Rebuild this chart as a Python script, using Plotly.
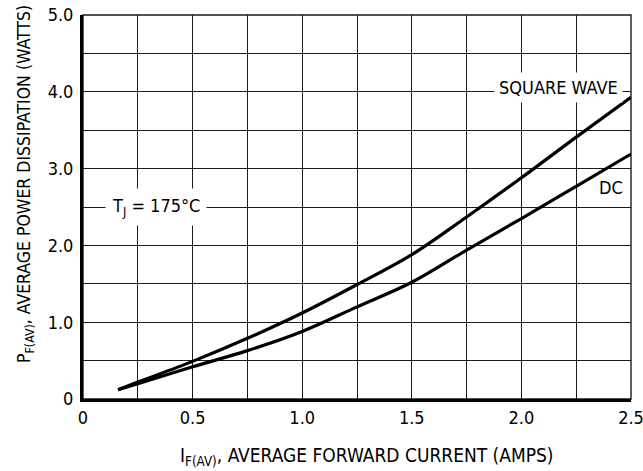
import plotly.graph_objects as go

# Data
current_amps = [0.16, 0.25, 0.5, 0.75, 1.0, 1.25, 1.5, 1.75, 2.0, 2.25, 2.5]
square_wave_watts = [0.12, 0.22, 0.49, 0.79, 1.12, 1.49, 1.88, 2.37, 2.88, 3.41, 3.93]
dc_watts = [0.12, 0.20, 0.42, 0.63, 0.88, 1.20, 1.52, 1.94, 2.35, 2.77, 3.19]

x_tick_vals = [0, 0.5, 1.0, 1.5, 2.0, 2.5]
x_tick_text = ["0", "0.5", "1.0", "1.5", "2.0", "2.5"]
y_tick_vals = [0, 1, 2, 3, 4, 5]
y_tick_text = ["0", "1.0", "2.0", "3.0", "4.0", "5.0"]

FONT = "DejaVu Sans Condensed, Liberation Sans Narrow, sans-serif"
GRID = "#1a1a1a"

fig = go.Figure()
fig.add_trace(go.Scatter(x=current_amps, y=square_wave_watts, mode="lines",
                         line=dict(color="black", width=3.2, shape="spline"),
                         showlegend=False))
fig.add_trace(go.Scatter(x=current_amps, y=dc_watts, mode="lines",
                         line=dict(color="black", width=3.2, shape="spline"),
                         showlegend=False))

fig.update_xaxes(range=[0, 2.5], tickvals=x_tick_vals, ticktext=x_tick_text,
                 automargin=False, ticklabeloverflow="allow",
                 showgrid=True, gridcolor=GRID, gridwidth=1.4,
                 minor=dict(dtick=0.25, showgrid=True, gridcolor=GRID, gridwidth=1.4),
                 zeroline=False, showline=True, linecolor="black", linewidth=3,
                 ticks="", ticklabelstandoff=0,
                 tickfont=dict(family=FONT, size=18, color="black"))
fig.update_yaxes(range=[0, 5], tickvals=y_tick_vals, ticktext=y_tick_text,
                 automargin=False, ticklabeloverflow="allow",
                 showgrid=True, gridcolor=GRID, gridwidth=1.4,
                 minor=dict(dtick=0.5, showgrid=True, gridcolor=GRID, gridwidth=1.4),
                 zeroline=False, showline=True, linecolor="black", linewidth=3,
                 ticks="", ticklabelstandoff=3,
                 tickfont=dict(family=FONT, size=18, color="black"))

# frame (top and right edges)
fig.add_shape(type="rect", xref="paper", yref="paper", x0=0, y0=0, x1=1, y1=1,
              line=dict(color=GRID, width=1.4), layer="below")

# axis titles
fig.add_annotation(xref="paper", yref="paper", x=0.518, y=-0.151,
                   xanchor="center", yanchor="middle", showarrow=False,
                   text="I<sub>F(AV)</sub>, AVERAGE FORWARD CURRENT (AMPS)",
                   font=dict(family=FONT, size=19, color="black"))
fig.add_annotation(xref="paper", yref="paper", x=-0.104, y=0.56,
                   xanchor="center", yanchor="middle", showarrow=False, textangle=-90,
                   text="P<sub>F(AV)</sub>, AVERAGE POWER DISSIPATION (WATTS)",
                   font=dict(family=FONT, size=17.5, color="black"))

fig.add_annotation(x=0.333, y=2.5, text="T<sub>J</sub> = 175°C", showarrow=False,
                   font=dict(family=FONT, size=18, color="black"),
                   bgcolor="white", borderpad=6)
fig.add_annotation(x=2.17, y=4.05, text="SQUARE WAVE", showarrow=False,
                   font=dict(family=FONT, size=18, color="black"),
                   bgcolor="white", borderpad=4)
fig.add_annotation(x=2.41, y=2.76, text="DC", showarrow=False,
                   font=dict(family=FONT, size=18, color="black"))

fig.update_layout(width=643, height=471,
                  margin=dict(l=83, r=12, t=15, b=72),
                  paper_bgcolor="white", plot_bgcolor="white",
                  font=dict(family=FONT, color="black"))

fig.write_html("out.html", config={"displayModeBar": False},
               post_script="document.body.style.margin='0';document.body.style.overflow='hidden';")
